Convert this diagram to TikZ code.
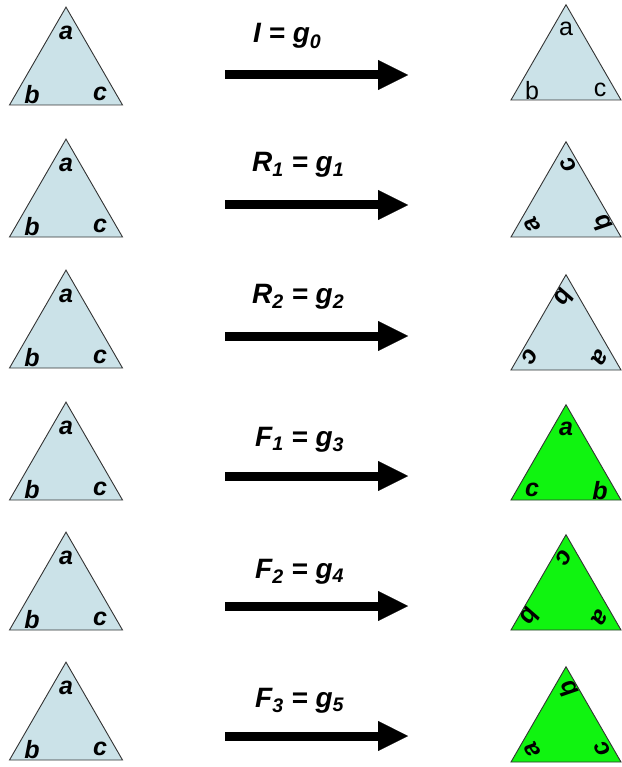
\documentclass[tikz,border=0pt]{standalone}
\usepackage{fontspec}
\setmainfont{Liberation Sans}
\usetikzlibrary{arrows.meta}
\definecolor{triblue}{RGB}{203,226,232}
\definecolor{trigreen}{RGB}{16,244,16}
\tikzset{
  trishape/.style={draw=black!80, line width=0.9pt, line join=miter},
  letter/.style={inner sep=0pt, transform shape, font=\fontsize{25}{25}\selectfont\bfseries\itshape},
  plainletter/.style={inner sep=0pt, transform shape, font=\fontsize{25}{25}\selectfont},
  lbl/.style={anchor=base west, inner sep=0pt, font=\fontsize{28}{28}\selectfont\bfseries\itshape},
  bigarrow/.style={line width=9pt, -{Triangle[length=30pt,width=30pt,line width=0.1pt]}},
}
% #1 apex x, #2 base y, #3 half width, #4 fill, #5 rotation, #6 letter style, #7 top, #8 BL, #9 BR
\newcommand{\Tri}[9]{%
  \pgfmathsetmacro\trih{1.732*#3}%
  \pgfmathsetmacro\tricy{#2-\trih/3}%
  \begin{scope}[rotate around={#5:(#1,\tricy)}]
    \coordinate (top) at (#1,#2-\trih);
    \coordinate (bl) at (#1-#3,#2);
    \coordinate (br) at (#1+#3,#2);
    \filldraw[trishape, fill=#4] (top) -- (bl) -- (br) -- cycle;
    \node[#6] (lt) at (#1,\tricy-39) {#7};
    \node[#6] (lbl) at (#1-34,\tricy+22) {#8};
    \node[#6] (lbr) at (#1+34,\tricy+22) {#9};
  \end{scope}}
\begin{document}
\begin{tikzpicture}[x=1pt,y=-1pt]
\useasboundingbox (0,0) rectangle (621,767);
% left triangles
\begin{scope}[name prefix=L1-]\Tri{66}{105}{56.5}{triblue}{0}{letter}{a}{b}{c}\end{scope}
\begin{scope}[name prefix=L2-]\Tri{66}{237}{56.5}{triblue}{0}{letter}{a}{b}{c}\end{scope}
\begin{scope}[name prefix=L3-]\Tri{66}{368}{56.5}{triblue}{0}{letter}{a}{b}{c}\end{scope}
\begin{scope}[name prefix=L4-]\Tri{66}{500}{56.5}{triblue}{0}{letter}{a}{b}{c}\end{scope}
\begin{scope}[name prefix=L5-]\Tri{66}{630}{56.5}{triblue}{0}{letter}{a}{b}{c}\end{scope}
\begin{scope}[name prefix=L6-]\Tri{66}{760}{56.5}{triblue}{0}{letter}{a}{b}{c}\end{scope}
% right triangles
\begin{scope}[name prefix=R1-]\Tri{566}{100}{55}{triblue}{0}{plainletter}{a}{b}{c}\end{scope}
\begin{scope}[name prefix=R2-]\Tri{566}{237}{55}{triblue}{120}{letter}{a}{b}{c}\end{scope}
\begin{scope}[name prefix=R3-]\Tri{566}{370}{55}{triblue}{240}{letter}{a}{b}{c}\end{scope}
\begin{scope}[name prefix=R4-]\Tri{566}{500}{55}{trigreen}{0}{letter}{a}{c}{b}\end{scope}
\begin{scope}[name prefix=R5-]\Tri{566}{630}{55}{trigreen}{240}{letter}{a}{c}{b}\end{scope}
\begin{scope}[name prefix=R6-]\Tri{566}{762}{55}{trigreen}{120}{letter}{a}{c}{b}\end{scope}
% arrows
\foreach \i/\y in {1/75,2/205,3/336,4/476,5/606,6/736}{
  \coordinate (s\i) at (225,\y);
  \coordinate (e\i) at (408,\y);
  \draw[bigarrow] (s\i) -- (e\i);
}
% labels
\node[lbl] (t1) at (253,43) {I = g\textsubscript{0}};
\node[lbl] (t2) at (252,172) {R\textsubscript{1} = g\textsubscript{1}};
\node[lbl] (t3) at (252,303) {R\textsubscript{2} = g\textsubscript{2}};
\node[lbl] (t4) at (255,446) {F\textsubscript{1} = g\textsubscript{3}};
\node[lbl] (t5) at (255,578) {F\textsubscript{2} = g\textsubscript{4}};
\node[lbl] (t6) at (255,707) {F\textsubscript{3} = g\textsubscript{5}};
\end{tikzpicture}
\end{document}
